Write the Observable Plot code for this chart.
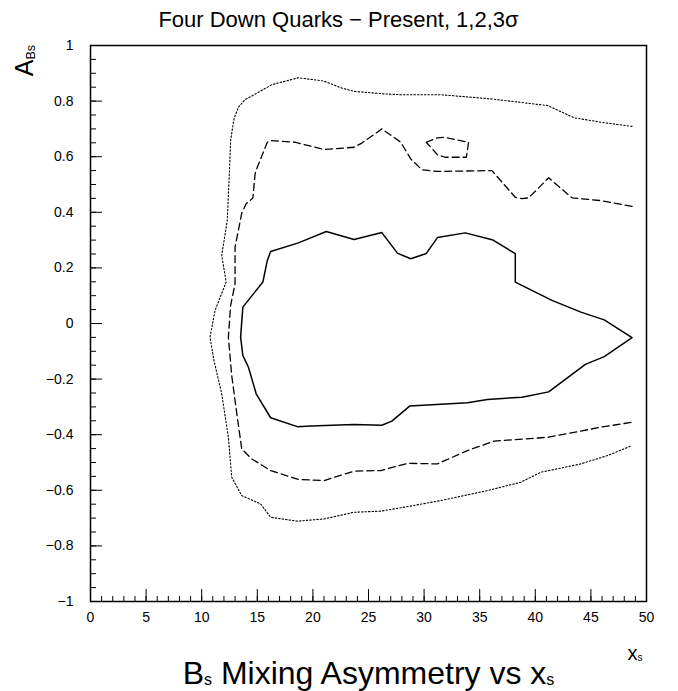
<!DOCTYPE html>
<html>
<head>
<meta charset="utf-8">
<script src="https://cdn.jsdelivr.net/npm/d3@7"></script>
<script src="https://cdn.jsdelivr.net/npm/@observablehq/plot@0.6"></script>
<style>
  html, body { margin: 0; padding: 0; background: #fff; }
  #chart svg { display: block; }
</style>
</head>
<body>
<div id="chart"></div>
<script>
// ---- Data ----
const xTicks = [0, 5, 10, 15, 20, 25, 30, 35, 40, 45, 50];
const yTicks = [-1, -0.8, -0.6, -0.4, -0.2, 0, 0.2, 0.4, 0.6, 0.8, 1];
const xMinorTicks = d3.range(0, 51, 1);
const yMinorTicks = d3.range(-1, 1.0001, 0.05);

// 1 sigma contour (solid, closed)
const sigma1 = [
  [16.2, 0.259], [18.7, 0.290], [21.2, 0.331], [23.7, 0.302], [26.2, 0.327],
  [27.6, 0.253], [28.8, 0.233], [30.2, 0.252], [31.2, 0.309], [33.7, 0.326],
  [36.2, 0.300], [38.2, 0.251], [38.2, 0.149], [41.5, 0.083], [44.1, 0.041],
  [46.2, 0.013], [48.7, -0.051], [46.2, -0.119], [44.5, -0.147], [41.2, -0.246],
  [38.8, -0.265], [35.7, -0.273], [33.9, -0.285], [28.7, -0.297], [27.1, -0.351],
  [26.2, -0.366], [23.7, -0.363], [19.8, -0.369], [18.6, -0.371], [16.2, -0.339],
  [14.9, -0.253], [14.2, -0.157], [13.7, -0.115], [13.5, -0.049], [13.7, 0.059],
  [15.5, 0.149], [15.9, 0.227], [16.2, 0.259]
];

// 2 sigma contour (dashed, open at the right edge)
const sigma2 = [
  [48.7, 0.421], [45.9, 0.442], [43.3, 0.452], [41.2, 0.524], [39.4, 0.452],
  [38.8, 0.449], [38.2, 0.454], [36.1, 0.550], [31.2, 0.547], [29.8, 0.553],
  [28.8, 0.592], [27.9, 0.652], [26.2, 0.700], [24.4, 0.649], [23.7, 0.634],
  [21.0, 0.626], [18.4, 0.652], [16.3, 0.658], [15.9, 0.652], [15.0, 0.562],
  [14.8, 0.538], [14.6, 0.451], [14.0, 0.431], [13.6, 0.397], [13.0, 0.274],
  [13.0, 0.143], [12.6, 0.065], [12.4, -0.049], [12.7, -0.187], [13.2, -0.337],
  [13.6, -0.451], [14.5, -0.487], [16.2, -0.529], [18.7, -0.561], [21.0, -0.565],
  [23.7, -0.531], [26.1, -0.529], [28.5, -0.503], [31.2, -0.505], [33.9, -0.457],
  [36.3, -0.423], [41.2, -0.409], [45.9, -0.373], [48.7, -0.355]
];

// 2 sigma island (dashed, closed)
const sigma2Island = [
  [30.2, 0.652], [31.2, 0.668], [31.8, 0.670], [34.0, 0.652], [33.8, 0.598],
  [31.9, 0.598], [31.2, 0.607], [30.2, 0.652]
];

// 3 sigma contour (dotted, open at the right edge)
const sigma3 = [
  [48.7, 0.709], [45.9, 0.724], [43.5, 0.740], [41.1, 0.784], [36.0, 0.808],
  [31.5, 0.823], [27.9, 0.823], [26.4, 0.826], [23.7, 0.835], [22.5, 0.848],
  [21.0, 0.872], [18.7, 0.884], [16.3, 0.859], [15.3, 0.836], [13.9, 0.805],
  [13.3, 0.778], [12.9, 0.736], [12.6, 0.658], [12.5, 0.550], [12.3, 0.371],
  [11.8, 0.245], [12.2, 0.149], [11.2, 0.047], [10.75, -0.049], [11.1, -0.133],
  [11.8, -0.253], [12.4, -0.409], [12.7, -0.553], [13.6, -0.619], [15.3, -0.649],
  [16.2, -0.697], [18.6, -0.711], [21.0, -0.703], [23.7, -0.679], [26.1, -0.675],
  [27.9, -0.663], [31.5, -0.637], [35.7, -0.601], [38.7, -0.571], [40.5, -0.535],
  [44.1, -0.505], [46.5, -0.475], [48.7, -0.439]
];

const titleText = ["Four Down Quarks \u2212 Present, 1,2,3\u03c3"];
const captionText = ["B_{s} Mixing Asymmetry vs x_{s}"];
const xLabelText = ["x_{s}"];
const yLabelText = "A_{Bs}";

// ---- Layout ----
const W = 678, H = 691;
const mLeft = 90, mRight = 32, mTop = 45, mBottom = 90;
const frameW = W - mLeft - mRight;   // 556
const frameH = H - mTop - mBottom;   // 556
const font = "Liberation Sans, Arial, sans-serif";

const fmt = d => d < 0 ? "\u2212" + String(Math.abs(+d.toFixed(2))) : String(+d.toFixed(2));

const chart = Plot.plot({
  width: W,
  height: H,
  marginLeft: mLeft,
  marginRight: mRight,
  marginTop: mTop,
  marginBottom: mBottom,
  style: {fontFamily: font, background: "#fff", color: "#000"},
  x: {domain: [0, 50]},
  y: {domain: [-1, 1]},
  marks: [
    // contours
    Plot.line(sigma3, {x: d => d[0], y: d => d[1], stroke: "#000", strokeWidth: 1.1, strokeDasharray: "1.5,2"}),
    Plot.line(sigma2, {x: d => d[0], y: d => d[1], stroke: "#000", strokeWidth: 1.3, strokeDasharray: "7,4"}),
    Plot.line(sigma2Island, {x: d => d[0], y: d => d[1], stroke: "#000", strokeWidth: 1.3, strokeDasharray: "7,4"}),
    Plot.line(sigma1, {x: d => d[0], y: d => d[1], stroke: "#000", strokeWidth: 1.5}),
    // inward ticks
    Plot.tickX(xMinorTicks, {x: d => d, stroke: "#000", strokeWidth: 1, insetTop: frameH - 5}),
    Plot.tickX(xTicks, {x: d => d, stroke: "#000", strokeWidth: 1, insetTop: frameH - 12}),
    Plot.tickY(yMinorTicks, {y: d => d, stroke: "#000", strokeWidth: 1, insetRight: frameW - 6}),
    Plot.tickY(yTicks, {y: d => d, stroke: "#000", strokeWidth: 1, insetRight: frameW - 12}),
    // axes labels
    Plot.axisX(xTicks, {tickSize: 0, tickPadding: 11, fontSize: 14, tickFormat: d => String(d), label: null}),
    Plot.axisY(yTicks, {tickSize: 0, tickPadding: 17, fontSize: 14, tickFormat: fmt, label: null}),
    Plot.frame({stroke: "#000", strokeWidth: 1.5}),
    // texts
    Plot.text(titleText, {text: d => d, frameAnchor: "top", lineAnchor: "bottom", dx: -30, dy: -19, fontSize: 22}),
    Plot.text(captionText, {text: d => d, frameAnchor: "bottom", lineAnchor: "bottom", dy: 82, fontSize: 32}),
    Plot.text(xLabelText, {text: d => d, frameAnchor: "bottom-right", textAnchor: "end", lineAnchor: "bottom", dx: -4, dy: 58, fontSize: 20})
  ]
});

// Vertical axis title (reads upward, ends at the top of the frame)
d3.select(chart).append("text")
  .attr("transform", `translate(${mLeft - 57},${mTop}) rotate(-90)`)
  .attr("text-anchor", "end")
  .attr("font-family", font)
  .attr("font-size", 25)
  .attr("fill", "#000")
  .text(yLabelText);

// Convert "_{...}" markers into real subscript tspans
d3.select(chart).selectAll("text").each(function() {
  const el = this;
  const txt = el.textContent;
  if (!txt.includes("_{")) return;
  const fs = parseFloat(el.getAttribute("font-size") || (el.parentNode && el.parentNode.getAttribute("font-size"))) || 20;
  const parts = txt.split(/(_\{[^}]*\})/).filter(s => s.length);
  el.textContent = "";
  let shifted = false;
  const shift = fs * 0.06;
  for (const p of parts) {
    const t = document.createElementNS("http://www.w3.org/2000/svg", "tspan");
    if (p.startsWith("_{")) {
      t.textContent = p.slice(2, -1);
      t.setAttribute("font-size", (fs * 0.5).toFixed(1));
      t.setAttribute("dy", shift.toFixed(1));
      shifted = true;
    } else {
      t.textContent = p;
      if (shifted) { t.setAttribute("dy", (-shift).toFixed(1)); shifted = false; }
    }
    el.appendChild(t);
  }
});

document.getElementById("chart").appendChild(chart);
</script>
</body>
</html>
